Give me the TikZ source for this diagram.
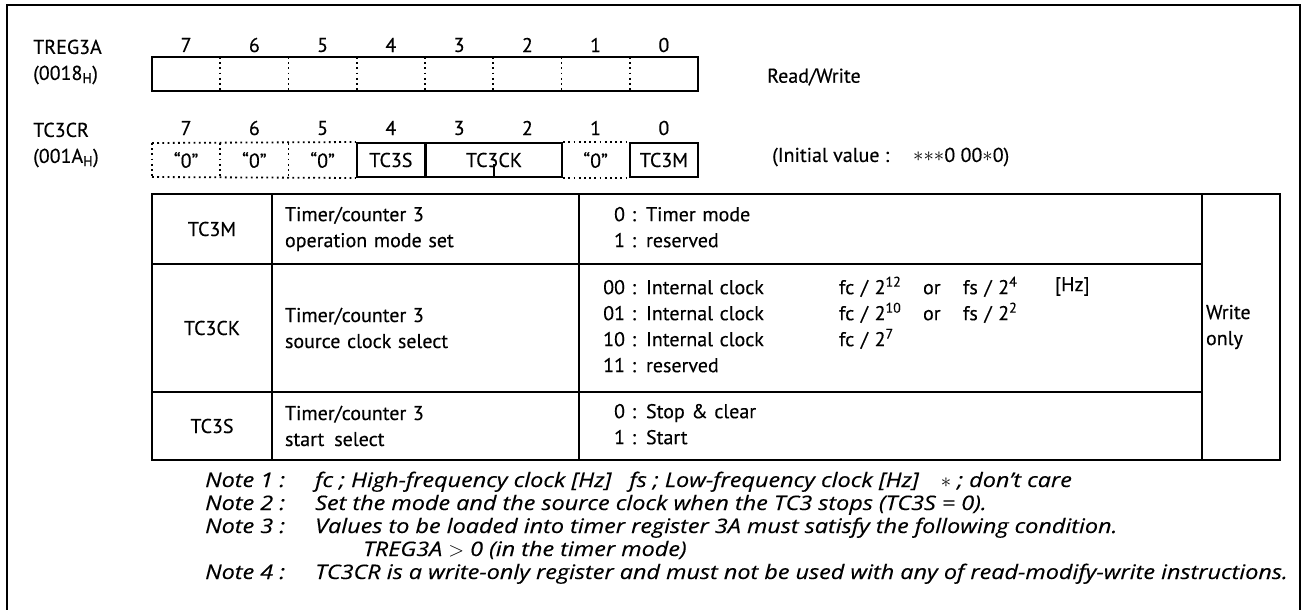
\documentclass[tikz,border=0pt]{standalone}
\usepackage{fontspec}
\setmainfont{PT Sans}[FakeBold=0.35]
\newfontfamily\notefont[FakeStretch=1.17, FakeBold=0.3]{Open Sans}
\usepackage{array}
\usetikzlibrary{positioning}
\newcolumntype{R}[1]{>{\raggedleft\arraybackslash}p{#1}}

\begin{document}
\begin{tikzpicture}[
    x=1pt, y=-1pt,
    font=\fontsize{20}{26}\selectfont,
    frame/.style={line width=2.6pt},
    regline/.style={line width=2pt},
    dotline/.style={line width=1.8pt, dash pattern=on 1.8pt off 3.4pt},
    field/.style={draw, line width=2pt, minimum width=68.25pt,
                  minimum height=34pt, inner sep=0pt},
    bitnum/.style={inner sep=0pt},
    cell/.style={draw, line width=2pt, inner sep=0pt},
    txt/.style={anchor=west, inner sep=0pt}
]
\useasboundingbox (0,0) rectangle (1303,610);
\draw[frame] (7,612) |- (1300,5) -- (1300,612);

% register labels
\node[txt, align=left] (treg) at (33,62) {TREG3A\\(0018\textsubscript{H})};
\node[txt, align=left] (tccr) at (33,145) {TC3CR\\(001A\textsubscript{H})};

% bit numbers
\foreach \b in {0,...,7} {
  \node[bitnum] (a\b) at ({152+(7.5-\b)*68.25},45) {\b};
  \node[bitnum] (c\b) at ({152+(7.5-\b)*68.25},128) {\b};
}

% TREG3A
\draw[regline] (152,57) rectangle (698,91);
\foreach \i in {1,...,7}
  \draw[dotline] ({152+\i*68.25},57) -- ++(0,34);
\node[txt] (rw) at (767,77) {Read/Write};

% TC3CR
\node[field] (tc3s) at (390.9,160) {TC3S};
\node[field, minimum width=136.5pt] (tc3ck) at (494,160) {TC3CK};
\node[field] (tc3m) at (663.9,160) {TC3M};
\draw[regline] (tc3ck.south) -- ++(0,-14);
\foreach \b in {7,6,5,1}
  \node[bitnum] (z\b) at ({152+(7.5-\b)*68.25},160) {“0”};
\draw[dotline] (152,143) -- (tc3s.north west);
\draw[dotline] (152,177) -- (tc3s.south west);
\draw[dotline] (152,143) -- (152,177);
\draw[dotline] (220.25,143) -- (220.25,177);
\draw[dotline] (288.5,143) -- (288.5,177);
\draw[dotline] (tc3ck.north east) -- (tc3m.north west);
\draw[dotline] (tc3ck.south east) -- (tc3m.south west);
\node[txt] (init) at (772,157)
  {(Initial value :\hspace{24pt}$\mathord{\ast}\mathord{\ast}\mathord{\ast}$0 00$\mathord{\ast}$0)};

% table
\node[cell, minimum width=120pt, minimum height=70pt] (m-bit) at (212,229) {TC3M};
\node[cell, minimum width=120pt, minimum height=128pt] (ck-bit) at (212,328) {TC3CK};
\node[cell, minimum width=120pt, minimum height=68pt] (s-bit) at (212,426) {TC3S};

\node[cell, text width=281pt, inner xsep=13pt, minimum height=70pt, align=left]
  (m-desc) at (425.5,229) {Timer/counter 3\\operation mode set};
\node[cell, text width=281pt, inner xsep=13pt, minimum height=128pt, align=left]
  (ck-desc) at (425.5,328) {Timer/counter 3\\source clock select};
\node[cell, text width=281pt, inner xsep=13pt, minimum height=68pt, align=left]
  (s-desc) at (425.5,426) {Timer/counter 3\\start\, select};

\node[cell, text width=623pt, minimum height=70pt, align=left] (m-val) at (890.5,229)
  {\begin{tabular}{@{}R{46pt}@{ : }l@{}}
   0 & Timer mode\\
   1 & reserved
   \end{tabular}};
\node[cell, text width=623pt, minimum height=128pt, align=left] (ck-val) at (890.5,328)
  {\begin{tabular}{@{}R{46pt}@{ : }p{193pt}@{}p{84pt}@{}p{40pt}@{}p{92pt}@{}l@{}}
   00 & Internal clock & fc / 2\textsuperscript{12} & or & fs / 2\textsuperscript{4} & \raisebox{3pt}{[Hz]}\\
   01 & Internal clock & fc / 2\textsuperscript{10} & or & fs / 2\textsuperscript{2} & \\
   10 & Internal clock & fc / 2\textsuperscript{7} & & & \\
   11 & reserved & & & &
   \end{tabular}};
\node[cell, text width=623pt, minimum height=68pt, align=left] (s-val) at (890.5,426)
  {\begin{tabular}{@{}R{46pt}@{ : }l@{}}
   0 & Stop \& clear\\
   1 & Start
   \end{tabular}};

\node[cell, text width=70pt, inner xsep=4pt, minimum height=266pt, align=left]
  (wo) at (1241,327) {Write\\only};

% notes
\node[anchor=base west, inner sep=0pt] (notes) at (205,487)
  {\notefont\itshape\fontsize{20}{23}\selectfont
   \begin{tabular}[t]{@{}p{110pt}@{}l@{}}
   Note 1 : & fc ; High-frequency clock [Hz]\hspace{18pt}fs ; Low-frequency clock [Hz]\hspace{22pt}$\ast$ ; don’t care\\
   Note 2 : & Set the mode and the source clock when the TC3 stops (TC3S = 0).\\
   Note 3 : & Values to be loaded into timer register 3A must satisfy the following condition.\\
            & \hspace{48pt}TREG3A $>$ 0 (in the timer mode)\\
   Note 4 : & TC3CR is a write-only register and must not be used with any of read-modify-write instructions.
   \end{tabular}};
\end{tikzpicture}
\end{document}
